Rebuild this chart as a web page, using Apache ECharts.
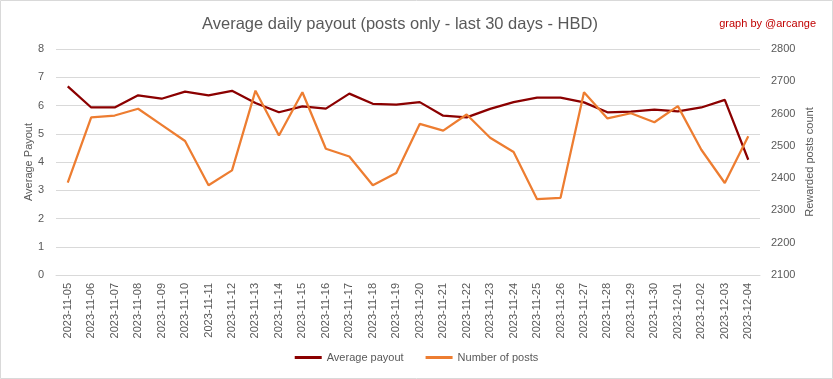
<!DOCTYPE html>
<html><head><meta charset="utf-8">
<script src="https://cdn.jsdelivr.net/npm/echarts@6/dist/echarts.min.js"></script>
<style>html,body{margin:0;padding:0;background:#fff}#c{width:833px;height:379px}</style>
</head><body><div id="c"></div>
<script>
const categories = ["2023-11-05","2023-11-06","2023-11-07","2023-11-08","2023-11-09","2023-11-10","2023-11-11","2023-11-12","2023-11-13","2023-11-14","2023-11-15","2023-11-16","2023-11-17","2023-11-18","2023-11-19","2023-11-20","2023-11-21","2023-11-22","2023-11-23","2023-11-24","2023-11-25","2023-11-26","2023-11-27","2023-11-28","2023-11-29","2023-11-30","2023-12-01","2023-12-02","2023-12-03","2023-12-04"];
const avgPayout = [6.68,5.93,5.93,6.36,6.24,6.49,6.36,6.52,6.09,5.76,5.97,5.89,6.42,6.06,6.03,6.12,5.64,5.58,5.88,6.12,6.28,6.28,6.11,5.76,5.78,5.85,5.79,5.93,6.2,4.08];
const postCount = [2386,2588,2594,2615,2565,2515,2378,2424,2671,2532,2666,2491,2467,2378,2416,2568,2547,2597,2525,2481,2335,2339,2666,2585,2601,2573,2623,2488,2385,2530];
const leftTicks = {min:0, max:8, interval:1};
const rightTicks = {min:2100, max:2800, interval:100};

const chart = echarts.init(document.getElementById('c'));
const font = 'Liberation Sans, Arial, sans-serif';
const grey = '#595959';
chart.setOption({
  animation:false,
  textStyle:{fontFamily:font},
  graphic:[{type:'rect',shape:{x:0.5,y:0.5,width:832,height:378},style:{fill:'none',stroke:'#d9d9d9',lineWidth:1}}],
  title:[
    {text:'Average daily payout (posts only - last 30 days - HBD)',left:395,top:11,textAlign:'center',
     textStyle:{fontFamily:font,fontSize:16.5,fontWeight:'normal',color:grey}},
    {text:'graph by @arcange',right:12,top:13,textStyle:{fontFamily:font,fontSize:11,fontWeight:'normal',color:'#c00000'}}
  ],
  grid:{left:56,right:73,top:49,bottom:104},
  legend:{bottom:11,left:'center',itemGap:22,itemWidth:27,itemHeight:3,icon:'rect',
    textStyle:{fontFamily:font,fontSize:11,color:grey},
    data:['Average payout','Number of posts']},
  xAxis:{type:'category',data:categories,boundaryGap:true,
    axisLine:{lineStyle:{color:'#d9d9d9'}},axisTick:{show:false},
    axisLabel:{rotate:90,interval:0,fontSize:11,color:grey,margin:8}},
  yAxis:[
    {type:'value',min:leftTicks.min,max:leftTicks.max,interval:leftTicks.interval,
     name:'Average Payout',nameLocation:'middle',nameGap:22,nameRotate:90,nameMoveOverlap:false,
     nameTextStyle:{fontFamily:font,fontSize:11,color:grey},
     axisLabel:{fontSize:11,color:grey,margin:12},
     axisLine:{show:false},axisTick:{show:false},
     splitLine:{lineStyle:{color:'#d9d9d9'}}},
    {type:'value',min:rightTicks.min,max:rightTicks.max,interval:rightTicks.interval,
     name:'Rewarded posts count',nameLocation:'middle',nameGap:44,nameRotate:90,nameMoveOverlap:false,
     nameTextStyle:{fontFamily:font,fontSize:11,color:grey},
     axisLabel:{fontSize:11,color:grey,margin:11,formatter:v=>String(v)},
     axisLine:{show:false},axisTick:{show:false},splitLine:{show:false}}
  ],
  series:[
    {name:'Average payout',type:'line',yAxisIndex:0,data:avgPayout,showSymbol:false,symbol:'none',
     lineStyle:{color:'#8b0000',width:2.25},itemStyle:{color:'#8b0000'}},
    {name:'Number of posts',type:'line',yAxisIndex:1,data:postCount,showSymbol:false,symbol:'none',
     lineStyle:{color:'#ed7d31',width:2.25},itemStyle:{color:'#ed7d31'}}
  ]
});
</script></body></html>
